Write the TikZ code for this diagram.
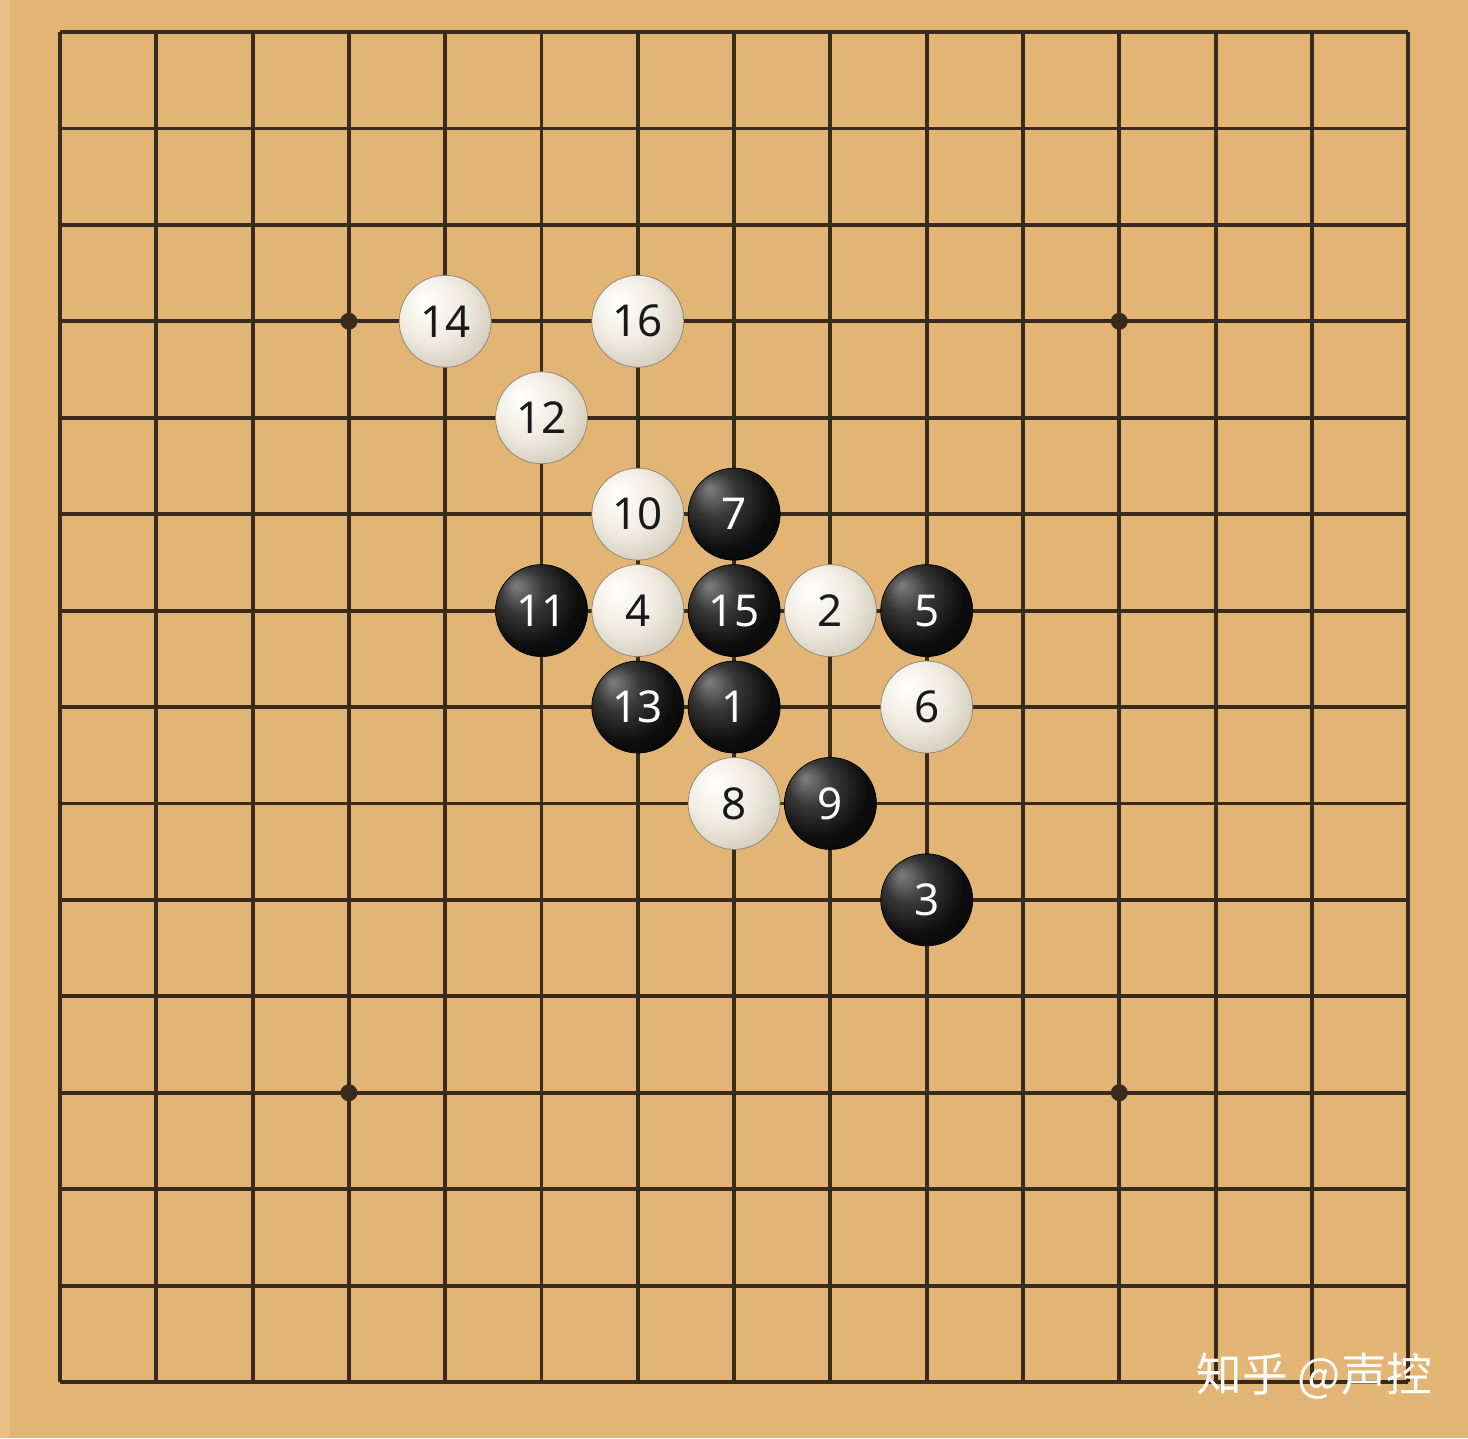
\documentclass[tikz,border=0pt]{standalone}
\usepackage{fontspec}
\setmainfont{Noto Sans}
\newfontfamily\cjk{Noto Sans CJK SC}
\definecolor{board}{RGB}{226,181,117}
\definecolor{boardlight}{RGB}{234,192,134}
\definecolor{gridc}{RGB}{56,42,28}
\definecolor{wedge}{RGB}{196,186,166}
\definecolor{wmid}{RGB}{240,236,226}
\pgfdeclareradialshading{blackstone}{\pgfpoint{-14bp}{14bp}}{color(0bp)=(black!50); color(12bp)=(black!78); color(26bp)=(black!95); color(50bp)=(black)}
\pgfdeclareradialshading{whitestone}{\pgfpoint{-12bp}{12bp}}{color(0bp)=(white); color(18bp)=(wmid); color(40bp)=(wedge); color(50bp)=(wedge!85!black)}
\tikzset{
  stone/.style={circle, minimum size=1.84cm, inner sep=0pt, font=\fontsize{25}{25}\selectfont},
  bstone/.style={stone, shading=blackstone, draw=black, line width=0.4pt, text=white},
  wstone/.style={stone, shading=whitestone, draw=wedge!70!black, line width=0.4pt, text=black!90},
  gridline/.style={draw=gridc, line width=2.2pt},
  star/.style={circle, fill=gridc, minimum size=0.34cm, inner sep=0pt},
  wmark/.style={font=\cjk\fontsize{26}{26}\selectfont, anchor=west}
}
\begin{document}
\begin{tikzpicture}[x=0.02cm, y=-0.02cm]
\useasboundingbox (0,0) rectangle (1468,1438);
\fill[board] (0,0) rectangle (1468,1438);
\fill[boardlight] (0,0) rectangle (10,1438);
% grid
\foreach \i in {0,...,14} {
  \draw[gridline] ({60+96.3*\i},32) -- ({60+96.3*\i},1382);
  \draw[gridline] (60,{32+96.43*\i}) -- (1408,{32+96.43*\i});
}
% star points
\foreach \c/\r [count=\k] in {3/3, 11/3, 3/11, 11/11}
  \node[star] (star\k) at ({60+96.3*\c},{32+96.43*\r}) {};
% stones
\newcommand{\stonepos}[2]{({60+96.3*#1},{32+96.43*#2})}
\foreach \c/\r/\n in {7/7/1, 9/9/3, 9/6/5, 7/5/7, 8/8/9, 5/6/11, 6/7/13, 7/6/15}
  \node[bstone] (s\n) at \stonepos{\c}{\r} {\n};
\foreach \c/\r/\n in {8/6/2, 6/6/4, 9/7/6, 7/8/8, 6/5/10, 5/4/12, 4/3/14, 6/3/16}
  \node[wstone] (s\n) at \stonepos{\c}{\r} {\n};
% watermark
\node[wmark, text=white, inner sep=0pt] (wm) at (1196,1376) {知乎 @声控};
\end{tikzpicture}
\end{document}
